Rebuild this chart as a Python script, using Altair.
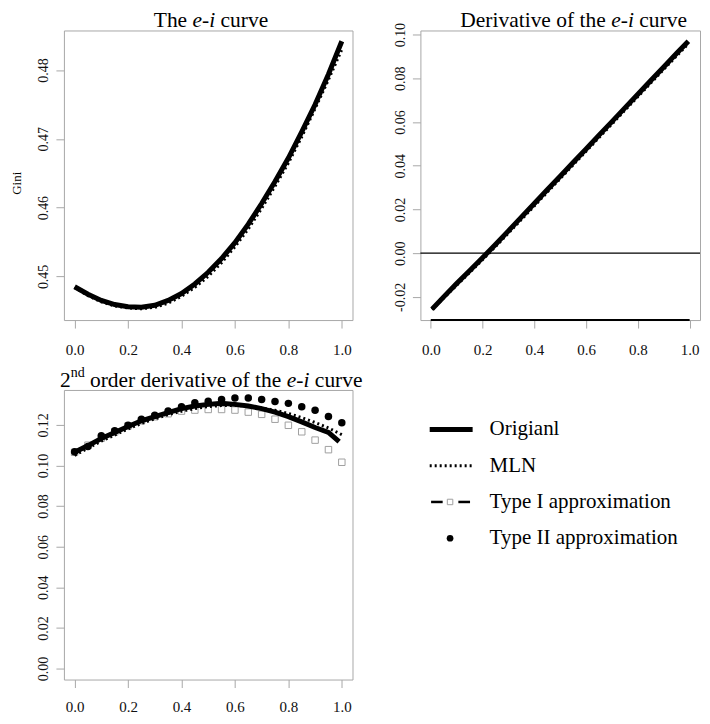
import altair as alt
import pandas as pd

SERIF = "Liberation Serif"

# ---------------- data ----------------
x_main = [0.0, 0.05, 0.1, 0.15, 0.2, 0.25, 0.3, 0.35, 0.4, 0.45, 0.5,
          0.55, 0.6, 0.65, 0.7, 0.75, 0.8, 0.85, 0.9, 0.95, 1.0]

# panel 1: the e-i curve (Gini)
ei_original = [0.4485, 0.4474, 0.4465, 0.4459, 0.4456, 0.4455, 0.4458, 0.4465,
               0.4475, 0.4489, 0.4506, 0.4526, 0.4549, 0.4576, 0.4606, 0.4638,
               0.4672, 0.4710, 0.4750, 0.4794, 0.4842]
ei_mln = [0.4484, 0.4472, 0.4463, 0.4457, 0.4454, 0.4453, 0.4455, 0.4461,
          0.4471, 0.4484, 0.4500, 0.4520, 0.4543, 0.4569, 0.4599, 0.4631,
          0.4665, 0.4703, 0.4744, 0.4786, 0.4830]

# panel 2: derivative of the e-i curve
x_d1 = [0.005, 0.05, 0.1, 0.15, 0.2, 0.25, 0.3, 0.35, 0.4, 0.45, 0.5,
        0.55, 0.6, 0.65, 0.7, 0.75, 0.8, 0.85, 0.9, 0.95, 0.995]
d1_original = [-0.0256, -0.0200, -0.0139, -0.0080, -0.0021, 0.0040, 0.0102,
               0.0165, 0.0227, 0.0290, 0.0352, 0.0415, 0.0477, 0.0540, 0.0602,
               0.0665, 0.0727, 0.0790, 0.0852, 0.0915, 0.0970]
d1_mln = [-0.0258, -0.0205, -0.0147, -0.0089, -0.0030, 0.0030, 0.0092,
          0.0154, 0.0216, 0.0279, 0.0341, 0.0404, 0.0466, 0.0529, 0.0591,
          0.0654, 0.0716, 0.0779, 0.0841, 0.0903, 0.0958]

# panel 3: 2nd order derivative of the e-i curve
x_d2_orig = [0.0, 0.05, 0.1, 0.15, 0.2, 0.25, 0.3, 0.35, 0.4, 0.45, 0.5,
             0.55, 0.6, 0.65, 0.7, 0.75, 0.8, 0.85, 0.9, 0.95, 0.99]
d2_original = [0.1065, 0.1098, 0.1133, 0.1163, 0.1192, 0.1220, 0.1241, 0.1260,
               0.1280, 0.1293, 0.1301, 0.1306, 0.1301, 0.1293, 0.1280, 0.1263,
               0.1241, 0.1215, 0.1187, 0.1163, 0.1117]
d2_mln = [0.1050, 0.1085, 0.1120, 0.1150, 0.1180, 0.1207, 0.1230, 0.1250,
          0.1267, 0.1280, 0.1290, 0.1295, 0.1296, 0.1292, 0.1284, 0.1272,
          0.1256, 0.1236, 0.1212, 0.1185, 0.1152]
d2_type1 = [0.1065, 0.1100, 0.1135, 0.1165, 0.1195, 0.1220, 0.1240, 0.1255,
            0.1268, 0.1273, 0.1276, 0.1276, 0.1273, 0.1263, 0.1252, 0.1228,
            0.1198, 0.1166, 0.1125, 0.1078, 0.1016]
d2_type2 = [0.1068, 0.1094, 0.1146, 0.1171, 0.1198, 0.1228, 0.1247, 0.1268,
            0.1289, 0.1309, 0.1317, 0.1325, 0.1332, 0.1332, 0.1325, 0.1315,
            0.1306, 0.1289, 0.1272, 0.1241, 0.1211]

legend_labels = ["Origianl", "MLN", "Type I approximation", "Type II approximation"]

x_ticks = [0.0, 0.2, 0.4, 0.6, 0.8, 1.0]
y1_ticks = [0.45, 0.46, 0.47, 0.48]
y2_ticks = [-0.02, 0.0, 0.02, 0.04, 0.06, 0.08, 0.10]
y3_ticks = [0.0, 0.02, 0.04, 0.06, 0.08, 0.10, 0.12]

# ---------------- helpers ----------------
W1, W2, H = 289, 280, 290
ONE = pd.DataFrame({"k": [0]})
XSCALE = alt.Scale(domain=[-0.04, 1.04], nice=False, zero=False)


def x_enc(pad=14):
    return alt.X("x:Q", scale=XSCALE,
                 axis=alt.Axis(values=x_ticks, format=".1f", title=None,
                               labelFontSize=15, labelPadding=pad,
                               labelFlush=False, labelOverlap=False))


def y_enc(field, domain, ticks, fmt):
    return alt.Y(f"{field}:Q", scale=alt.Scale(domain=domain, nice=False, zero=False),
                 axis=alt.Axis(values=ticks, title=None, labelFontSize=14,
                               labelExpr=f"replace(format(datum.value, '{fmt}'), '\u2212', '-')",
                               labelAngle=270, labelAlign="center",
                               labelBaseline="alphabetic", labelPadding=8,
                               labelFlush=False, labelOverlap=False))


def txt(s, x, y, size=21.5, style="normal", angle=0, align="left", baseline="alphabetic"):
    return alt.Chart(ONE).mark_text(
        font=SERIF, fontSize=size, fontStyle=style, angle=angle,
        align=align, baseline=baseline, color="black"
    ).encode(x=alt.value(x), y=alt.value(y), text=alt.value(s))


# ---------------- panel 1 ----------------
D1 = [0.44365, 0.48576]
df_ei_o = pd.DataFrame({"x": x_main, "y": ei_original})
df_ei_m = pd.DataFrame({"x": x_main, "y": ei_mln})
p1 = alt.layer(
    alt.Chart(df_ei_m).mark_line(color="black", strokeWidth=3, strokeDash=[2, 3]).encode(
        x=x_enc(), y=y_enc("y", D1, y1_ticks, ".2f")),
    alt.Chart(df_ei_o).mark_line(color="black", strokeWidth=5).encode(
        x=x_enc(), y=y_enc("y", D1, y1_ticks, ".2f")),
    txt("The", 90, -3.7),
    txt("e-i", 128.8, -3.7, style="italic"),
    txt("curve", 156.9, -3.7),
    txt("Gini", -46.5, 153, size=13, angle=270, align="center", baseline="middle"),
).properties(width=W1, height=H)

# ---------------- panel 2 ----------------
D2 = [-0.0306, 0.1019]
df_d1_o = pd.DataFrame({"x": x_d1, "y": d1_original})
df_d1_m = pd.DataFrame({"x": x_d1, "y": d1_mln})
p2 = alt.layer(
    alt.Chart(ONE).mark_rule(color="black", strokeWidth=1.3).encode(y=alt.datum(0)),
    alt.Chart(ONE).mark_rule(color="black", strokeWidth=2).encode(
        x=alt.datum(0), x2=alt.datum(1), y=alt.value(H)),
    alt.Chart(df_d1_m).mark_line(color="black", strokeWidth=3, strokeDash=[2, 3]).encode(
        x=x_enc(), y=y_enc("y", D2, y2_ticks, ".2f")),
    alt.Chart(df_d1_o).mark_line(color="black", strokeWidth=5).encode(
        x=x_enc(), y=y_enc("y", D2, y2_ticks, ".2f")),
    txt("Derivative of the", 40, -3.7),
    txt("e-i", 191.1, -3.7, style="italic"),
    txt("curve", 219.2, -3.7),
).properties(width=W2, height=H)

# ---------------- panel 3 ----------------
D3 = [-0.0054, 0.1372]
df_d2_o = pd.DataFrame({"x": x_d2_orig, "y": d2_original})
df_d2_m = pd.DataFrame({"x": x_main, "y": d2_mln})
df_d2_1 = pd.DataFrame({"x": x_main, "y": d2_type1})
df_d2_2 = pd.DataFrame({"x": x_main, "y": d2_type2})
p3 = alt.layer(
    alt.Chart(df_d2_1).mark_point(shape="square", filled=False, color="#a0a0a0",
                                  size=42, strokeWidth=1, opacity=1).encode(
        x=x_enc(12), y=y_enc("y", D3, y3_ticks, ".2f")),
    alt.Chart(df_d2_m).mark_line(color="black", strokeWidth=3, strokeDash=[2, 3]).encode(
        x=x_enc(12), y=y_enc("y", D3, y3_ticks, ".2f")),
    alt.Chart(df_d2_o).mark_line(color="black", strokeWidth=5).encode(
        x=x_enc(12), y=y_enc("y", D3, y3_ticks, ".2f")),
    alt.Chart(df_d2_2).mark_point(shape="circle", filled=True, color="black",
                                  size=56, opacity=1).encode(
        x=x_enc(12), y=y_enc("y", D3, y3_ticks, ".2f")),
    txt("2", -4, -2.5),
    txt("nd", 6.75, -13, size=14),
    txt("order derivative of the", 26.1, -2.5),
    txt("e-i", 223.2, -2.5, style="italic"),
    txt("curve", 251.3, -2.5),
).properties(width=W1, height=H)

# ---------------- legend panel ----------------
leg_df = pd.DataFrame({"label": legend_labels, "row": [0, 1, 2, 3]})
YROW = alt.Y("row:Q", scale=alt.Scale(domain=[0, 3], range=[39.5, 148.5]), axis=None)


def leg_row(i):
    return alt.Chart(leg_df).transform_filter(f"datum.row == {i}")


legend = alt.layer(
    leg_row(0).mark_rule(color="black", strokeWidth=5).encode(
        x=alt.value(9.3), x2=alt.value(52.3), y=YROW),
    leg_row(1).mark_rule(color="black", strokeWidth=3, strokeDash=[2, 3]).encode(
        x=alt.value(9.3), x2=alt.value(52.3), y=YROW),
    leg_row(2).mark_rule(color="black", strokeWidth=2.5).encode(
        x=alt.value(10.7), x2=alt.value(22.3), y=YROW),
    leg_row(2).mark_rule(color="black", strokeWidth=2.5).encode(
        x=alt.value(38), x2=alt.value(49.7), y=YROW),
    leg_row(2).mark_point(shape="square", filled=False, color="#a0a0a0",
                          size=30, strokeWidth=1, opacity=1).encode(
        x=alt.value(29.7), y=YROW),
    leg_row(3).mark_point(shape="circle", filled=True, color="black",
                          size=45, opacity=1).encode(
        x=alt.value(29.7), y=YROW),
    alt.Chart(leg_df).mark_text(font=SERIF, fontSize=21, align="left",
                                baseline="middle", color="black").encode(
        x=alt.value(69.3), y=YROW, text="label:N"),
).properties(width=W2, height=H, view=alt.ViewBackground(stroke="transparent"))

chart = alt.concat(
    p1, p2, p3, legend, columns=2, spacing={"row": 70, "column": 68}, bounds="flush"
).properties(
    padding={"left": 3, "top": 0, "right": 0, "bottom": 0}
).configure_view(
    stroke="#a8a8a8", strokeWidth=1
).configure_axis(
    domain=False, grid=False, ticks=True, tickColor="#a8a8a8", tickSize=8,
    tickWidth=1, labelFont=SERIF, labelColor="#111111"
)

chart.save("out.html", embed_options={"renderer": "svg", "actions": False})
